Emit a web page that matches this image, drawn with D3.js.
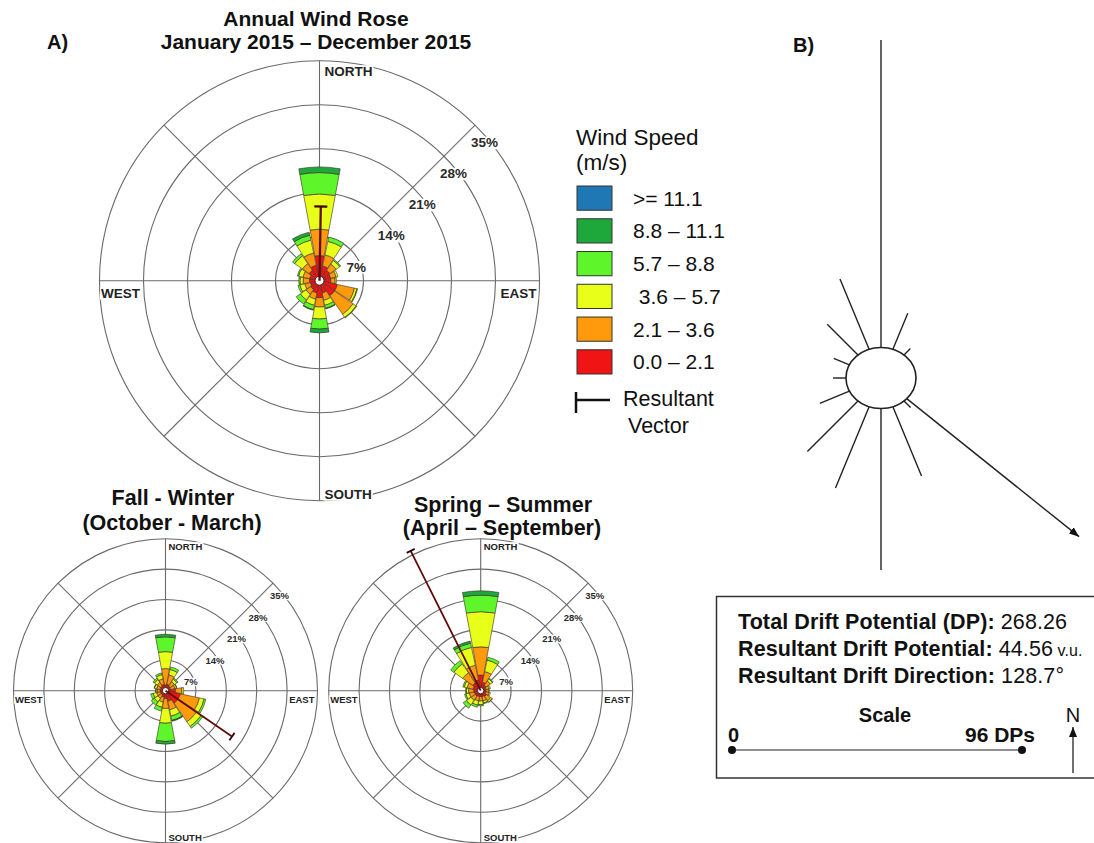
<!DOCTYPE html>
<html><head><meta charset="utf-8">
<script src="https://cdn.jsdelivr.net/npm/d3@7"></script>
<style>body{margin:0;background:#fff;} svg{display:block;font-family:"Liberation Sans",Arial,sans-serif;}</style>
</head><body><svg id="c" width="1094" height="843"></svg>
<script>
// ---------------- DATA ----------------
const directions = ["N","NNE","NE","ENE","E","ESE","SE","SSE","S","SSW","SW","WSW","W","WNW","NW","NNW"];
// speed classes, low -> high
const speedLabels = ["0.0 – 2.1","2.1 – 3.6"," 3.6 – 5.7","5.7 – 8.8","8.8 – 11.1",">= 11.1"];
const speedColors = ["#f01414","#ff9a0c","#e8ff1a","#5ef52a","#1ea83c","#1f78b4"];
const ringTicks = [7,14,21,28,35];
const ringLabels = ["7%","14%","21%","28%","35%"];
const axisLabels = ["NORTH","EAST","SOUTH","WEST"];

// frequency (%) per direction, per speed class (low -> high)
const annualFreq = [
  [4.0,4.2,5.6,3.4,0.9,0],[2.4,1.8,2.2,0.7,0,0],[2.0,1.2,0.7,0.2,0,0],[1.8,0.9,0.3,0,0,0],
  [1.8,0.7,0.2,0,0,0],[2.9,2.8,0.4,0.1,0,0],[2.9,3.6,0.6,0.1,0,0],[2.0,1.2,0.8,0.5,0.1,0],
  [2.7,1.5,1.9,1.6,0.6,0],[2.0,1.0,1.0,0.7,0.1,0],[1.7,0.9,1.1,0.8,0,0],[1.5,0.9,0.8,0.3,0,0],
  [1.6,1.0,0.5,0.2,0,0],[1.6,1.1,0.7,0.2,0,0],[2.0,1.3,1.5,0.4,0,0],[2.5,2.0,2.1,0.8,0.5,0]
];
const fallFreq = [
  [1.3,3.8,3.9,3.4,0.6,0],[1.5,2.2,1.3,0.6,0,0],[1.3,1.2,0.7,0.3,0,0],[1.2,1.0,0.4,0.1,0,0],
  [2.3,1.5,0.4,0,0,0],[3.5,4.5,1.1,0.4,0,0],[3.5,5.2,1.3,0.5,0,0],[2.5,2.0,1.5,1.0,0.2,0],
  [1.8,2.3,3.4,4.2,0.6,0],[1.5,1.2,1.2,0.9,0,0],[1.2,0.9,1.0,0.9,0,0],[1.2,0.9,0.8,0.6,0,0],
  [1.2,0.7,0.3,0.1,0,0],[1.3,0.8,0.5,0.1,0,0],[1.3,1.0,0.8,0.4,0,0],[1.5,1.3,1.0,0.4,0,0]
];
const springFreq = [
  [3.6,6.5,8.1,3.8,1.0,0],[2.0,2.5,2.7,0.7,0,0],[1.5,1.2,0.6,0.2,0,0],[1.2,0.8,0.3,0,0,0],
  [1.2,0.6,0.2,0,0,0],[1.2,0.8,0.3,0,0,0],[1.6,1.2,0.4,0.1,0,0],[1.4,1.0,0.5,0.2,0,0],
  [1.4,1.0,0.8,0.3,0,0],[1.4,1.0,1.0,0.5,0,0],[1.5,1.2,1.3,0.9,0,0],[1.5,1.2,0.8,0.3,0,0],
  [1.6,1.2,0.5,0.2,0,0],[1.8,1.4,0.7,0.3,0,0],[2.2,2.8,2.5,0.9,0,0],[2.5,3.5,4.2,1.0,0.5,0]
];
// resultant vectors: direction (deg from N) and length (in % units of the rose scale)
const annualResultant = {dir:1, len:11.8};
const fallResultant = {dir:124.6, len:18.6};
const springResultant = {dir:333.4, len:36};

// drift potential per direction (DP units)
const dpValues = [101.8,12.9,3.0,0,0,0,3.1,24.8,53.5,29.1,23.7,10.6,4.3,5.6,14.4,25.2];
const totalDP = "268.26";
const resultantDP = 44.56;
const resultantDir = 128.7;
const scaleDP = 96;

// ---------------- DRAW ----------------
const svg = d3.select("#c");
const rad = d => d*Math.PI/180;

svg.append("defs").append("marker").attr("id","ah").attr("viewBox","0 0 10 8")
  .attr("refX",10).attr("refY",4).attr("markerWidth",10).attr("markerHeight",8)
  .attr("markerUnits","userSpaceOnUse").attr("orient","auto")
  .append("path").attr("d","M0,0L10,4L0,8Z").attr("fill","#111");

function addLabel(parent, x, y, txt, size, anchor, fill, pad){
  const g = parent.append("g");
  const t = g.append("text").attr("x",x).attr("y",y).attr("font-size",size)
    .attr("font-weight","bold").attr("text-anchor",anchor).attr("fill",fill).text(txt);
  const bb = t.node().getBBox();
  g.insert("rect","text").attr("x",bb.x-pad).attr("y",bb.y+1.5)
    .attr("width",bb.width+2*pad).attr("height",bb.height-2.5).attr("fill","#fff");
}

function drawRose(cfg, freq, res){
  const {cx,cy,R} = cfg;
  const r = d3.scaleLinear().domain([0,35]).range([0,R]);
  const G = svg.append("g").attr("transform",`translate(${cx},${cy})`);
  G.selectAll("circle.ring").data(ringTicks).join("circle").attr("class","ring")
    .attr("r",d=>r(d)).attr("fill","none").attr("stroke","#6a6a6a").attr("stroke-width",1.1);
  G.append("line").attr("x1",0).attr("x2",0).attr("y1",-R).attr("y2",R).attr("stroke","#6a6a6a").attr("stroke-width",1.1);
  G.append("line").attr("y1",0).attr("y2",0).attr("x1",-R).attr("x2",R).attr("stroke","#6a6a6a").attr("stroke-width",1.1);
  [45,135,225,315].forEach(a=>{
    G.append("line").attr("x1",0).attr("y1",0).attr("x2",R*Math.sin(rad(a))).attr("y2",-R*Math.cos(rad(a)))
      .attr("stroke","#6a6a6a").attr("stroke-width",1.1);
  });
  // percent labels
  ringTicks.forEach((t,i)=>{
    const px = r(t)*Math.SQRT1_2, py = -r(t)*Math.SQRT1_2;
    addLabel(G, px+cfg.pctDx, py+cfg.pctDy, ringLabels[i], cfg.pctFont, "start", "#2a2a2a", 1);
  });
  // axis labels
  addLabel(G, cfg.nDx, -R+cfg.nDy, axisLabels[0], cfg.axisFont, "start", "#222", 1);
  addLabel(G, R-3, cfg.ewDy, axisLabels[1], cfg.axisFont, "end", "#222", 1);
  addLabel(G, cfg.nDx, R-cfg.sUp, axisLabels[2], cfg.axisFont, "start", "#222", 1);
  addLabel(G, -R+1.5, cfg.ewDy, axisLabels[3], cfg.axisFont, "start", "#222", 1);
  // petals
  const arc = d3.arc();
  const hw = rad(10.5);
  freq.forEach((bins,i)=>{
    const a = rad(i*22.5);
    let cum = 0;
    bins.forEach((v,j)=>{
      if(v<=0) return;
      G.append("path").attr("d",arc({innerRadius:r(cum),outerRadius:r(cum+v),startAngle:a-hw,endAngle:a+hw}))
        .attr("fill",speedColors[j]).attr("stroke","#3b2a20").attr("stroke-width",0.6);
      cum += v;
    });
  });
  // calm circle
  G.append("circle").attr("r",cfg.calmR).attr("fill","#fff").attr("stroke","#5a1010").attr("stroke-width",1);
  // resultant vector
  const a = rad(res.dir), L = r(res.len);
  const ex = L*Math.sin(a), ey = -L*Math.cos(a);
  G.append("line").attr("x1",0).attr("y1",0).attr("x2",ex).attr("y2",ey)
    .attr("stroke","#5e0c0c").attr("stroke-width",cfg.resW);
  const bx = cfg.bar*Math.cos(a), by = cfg.bar*Math.sin(a);
  G.append("line").attr("x1",ex-bx).attr("y1",ey-by).attr("x2",ex+bx).attr("y2",ey+by)
    .attr("stroke","#3a0808").attr("stroke-width",cfg.resW);
}

const mainCfg = {cx:319.5, cy:280.7, R:220, axisFont:13.5, pctFont:13.5, pctDx:-4, pctDy:22,
  nDx:5, nDy:15, sUp:2, ewDy:17, calmR:4.5, resW:2.3, bar:6.5};
const smallCfg = {R:152, axisFont:9.5, pctFont:9.5, pctDx:-3, pctDy:16,
  nDx:3, nDy:11, sUp:1.5, ewDy:12, calmR:3.2, resW:1.8, bar:4.5};

drawRose(mainCfg, annualFreq, annualResultant);
drawRose(Object.assign({cx:165.5, cy:690.7}, smallCfg), fallFreq, fallResultant);
drawRose(Object.assign({cx:480.7, cy:690.7}, smallCfg), springFreq, springResultant);

// titles
function txt(x,y,s,size,weight,anchor){
  return svg.append("text").attr("x",x).attr("y",y).attr("font-size",size).attr("font-weight",weight||"normal")
    .attr("text-anchor",anchor||"start").attr("fill","#111").text(s);
}
txt(316,26,"Annual Wind Rose",21,"bold","middle");
txt(316,49,"January 2015 – December 2015",21,"bold","middle");
txt(47,49,"A)",20,"bold");
txt(793,52,"B)",20,"bold");
txt(173,505,"Fall - Winter",21.5,"bold","middle");
txt(172,530,"(October - March)",21.5,"bold","middle");
txt(503,512,"Spring – Summer",21.5,"bold","middle");
txt(502,535,"(April – September)",21.5,"bold","middle");

// legend
txt(576,145,"Wind Speed",22.5);
txt(576,170,"(m/s)",22.5);
const legendOrder = d3.range(speedLabels.length).reverse();
const ly = d3.scaleBand().domain(legendOrder).range([186,374]).paddingInner(0.26);
legendOrder.forEach(k=>{
  svg.append("rect").attr("x",577).attr("y",ly(k)).attr("width",35).attr("height",ly.bandwidth())
    .attr("fill",speedColors[k]).attr("stroke","#333").attr("stroke-width",1);
  txt(633,ly(k)+ly.bandwidth()/2+7.5,speedLabels[k],21).attr("xml:space","preserve").style("white-space","pre");
});
svg.append("line").attr("x1",576).attr("x2",610).attr("y1",400).attr("y2",400).attr("stroke","#111").attr("stroke-width",2.5);
svg.append("line").attr("x1",576).attr("x2",576).attr("y1",392).attr("y2",413).attr("stroke","#111").attr("stroke-width",2.5);
txt(623,406,"Resultant",21.5);
txt(628,433,"Vector",21.5);

// ---------------- B) drift potential rose ----------------
const dp = {cx:881, cy:378, rx:35, ry:30.5};
const dpScale = d3.scaleLinear().domain([0,scaleDP]).range([0,290]);
const arrowMag = 1.64;
const boundary = a => 1/Math.sqrt(Math.pow(Math.sin(a)/dp.rx,2)+Math.pow(Math.cos(a)/dp.ry,2));
const B = svg.append("g");
dpValues.forEach((v,i)=>{
  if(v<=0) return;
  const a = rad(i*22.5), rb = boundary(a), re = rb + dpScale(v);
  B.append("line").attr("x1",dp.cx+rb*Math.sin(a)).attr("y1",dp.cy-rb*Math.cos(a))
    .attr("x2",dp.cx+re*Math.sin(a)).attr("y2",dp.cy-re*Math.cos(a))
    .attr("stroke","#222").attr("stroke-width",1.4);
});
{
  const a = rad(resultantDir), rb = boundary(a), re = rb + dpScale(resultantDP)*arrowMag;
  B.append("line").attr("x1",dp.cx+rb*Math.sin(a)).attr("y1",dp.cy-rb*Math.cos(a))
    .attr("x2",dp.cx+re*Math.sin(a)).attr("y2",dp.cy-re*Math.cos(a))
    .attr("stroke","#222").attr("stroke-width",1.4).attr("marker-end","url(#ah)");
}
B.append("ellipse").attr("cx",dp.cx).attr("cy",dp.cy).attr("rx",dp.rx).attr("ry",dp.ry)
  .attr("fill","#fff").attr("stroke","#222").attr("stroke-width",1.6);

// info box
svg.append("rect").attr("x",716.5).attr("y",596.5).attr("width",420).attr("height",181.5)
  .attr("fill","none").attr("stroke","#333").attr("stroke-width",1.5);
function infoLine(y, bold, normal, extra){
  const t = svg.append("text").attr("x",738).attr("y",y).attr("font-size",21.5).attr("fill","#111").attr("letter-spacing",0.1);
  t.append("tspan").attr("font-weight","bold").text(bold);
  t.append("tspan").text(normal);
  if(extra) t.append("tspan").attr("font-size",16).text(extra);
}
infoLine(629,"Total Drift Potential (DP): ",totalDP);
infoLine(656,"Resultant Drift Potential: ",resultantDP.toFixed(2)," v.u.");
infoLine(683,"Resultant Drift Direction: ",resultantDir.toFixed(1)+"°");
txt(885,722,"Scale",20,"bold","middle");
txt(728,742,"0",20,"bold");
txt(1035,742,scaleDP+" DPs",21,"bold","end");
const sx0 = 732;
svg.append("line").attr("x1",sx0).attr("x2",sx0+dpScale(scaleDP)).attr("y1",750).attr("y2",750).attr("stroke","#222").attr("stroke-width",1.2);
[0,scaleDP].forEach(v=>svg.append("circle").attr("cx",sx0+dpScale(v)).attr("cy",750).attr("r",4).attr("fill","#111"));
txt(1073,722,"N",20,"normal","middle");
svg.append("line").attr("x1",1073).attr("x2",1073).attr("y1",773).attr("y2",727).attr("stroke","#222").attr("stroke-width",1.3).attr("marker-end","url(#ah)");
</script></body></html>
